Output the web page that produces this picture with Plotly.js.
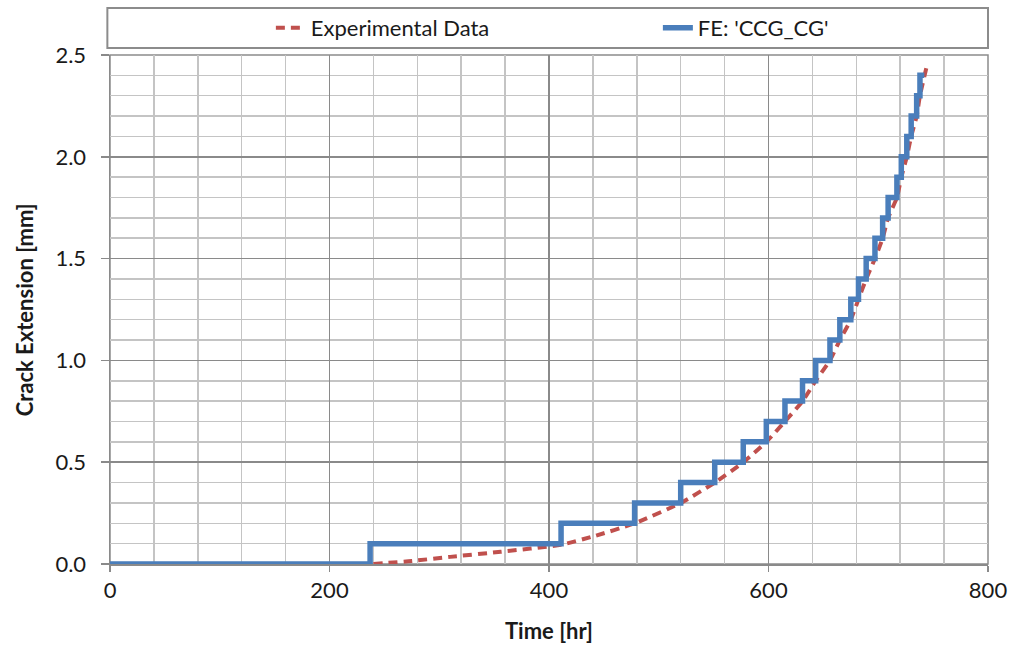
<!DOCTYPE html>
<html>
<head>
<meta charset="utf-8">
<script src="https://cdn.plot.ly/plotly-3.0.1.min.js"></script>
<style>
html,body{margin:0;padding:0;background:#fff;}
#chart{width:1012px;height:645px;}
</style>
</head>
<body>
<div id="chart"></div>
<script>
// Experimental data (red dashed curve)
var expTime = [240, 275, 310, 356, 411, 440, 478, 520, 551, 577, 598, 615, 631, 643, 656, 665, 675, 682, 689, 697, 704, 709, 717, 721, 726, 730, 735, 738, 744];
var expCrack = [0.0, 0.015, 0.035, 0.06, 0.095, 0.135, 0.2, 0.3, 0.4, 0.5, 0.6, 0.7, 0.8, 0.9, 1.0, 1.1, 1.2, 1.3, 1.4, 1.5, 1.6, 1.7, 1.8, 1.9, 2.0, 2.1, 2.2, 2.3, 2.44];

// FE: 'CCG_CG' (blue step line)
var feTime = [0, 237, 411, 478, 520, 551, 577, 598, 615, 631, 643, 656, 665, 675, 682, 689, 697, 704, 709, 717, 721, 726, 730, 735, 738, 742];
var feCrack = [0.0, 0.1, 0.2, 0.3, 0.4, 0.5, 0.6, 0.7, 0.8, 0.9, 1.0, 1.1, 1.2, 1.3, 1.4, 1.5, 1.6, 1.7, 1.8, 1.9, 2.0, 2.1, 2.2, 2.3, 2.4, 2.4];

var seriesNames = ["Experimental Data", "FE: 'CCG_CG'"];
var xTitle = "Time [hr]";
var yTitle = "Crack Extension [mm]";

var FONT = "Lato, 'Open Sans', sans-serif";
var FS = 22;

var traces = [
  {
    x: expTime, y: expCrack, name: seriesNames[0], type: 'scatter', mode: 'lines',
    line: {color: '#C0504D', width: 4, dash: '9px,6px', shape: 'spline', smoothing: 0.6},
    cliponaxis: false
  },
  {
    x: feTime, y: feCrack, name: seriesNames[1], type: 'scatter', mode: 'lines',
    line: {color: '#4A7EBB', width: 5.5, shape: 'hv'},
    cliponaxis: false
  }
];

var layout = {
  width: 1012, height: 645,
  margin: {l: 110, r: 24, t: 55, b: 81, autoexpand: false},
  paper_bgcolor: '#fff', plot_bgcolor: '#fff',
  font: {family: FONT, color: '#1a1a1a', size: FS},
  showlegend: true,
  legend: {
    orientation: 'h', x: 0.624, xanchor: 'center', y: 1.053, yanchor: 'middle',
    font: {family: FONT, size: FS, color: '#1a1a1a'},
    entrywidth: 342, entrywidthmode: 'pixels',
    bgcolor: 'rgba(0,0,0,0)', borderwidth: 0,
    traceorder: 'normal'
  },
  shapes: [
    {type: 'rect', xref: 'paper', yref: 'paper', x0: -0.003, x1: 1.0, y0: 1.0138, y1: 1.0923,
     line: {color: '#8c8c8c', width: 2}, fillcolor: 'rgba(0,0,0,0)'},
    {type: 'rect', xref: 'paper', yref: 'paper', x0: 0, x1: 1, y0: 0, y1: 1,
     line: {color: '#8c8c8c', width: 1.5}, fillcolor: 'rgba(0,0,0,0)', layer: 'below'}
  ],
  annotations: [
    {text: '<b>' + yTitle + '</b>', xref: 'paper', yref: 'paper', x: -0.097, y: 0.5,
     xanchor: 'center', yanchor: 'middle', textangle: -90, showarrow: false,
     font: {family: FONT, size: FS, color: '#1a1a1a'}}
  ],
  xaxis: {
    range: [0, 800], dtick: 200, tick0: 0,
    showgrid: true, gridcolor: '#8a8a8a', gridwidth: 1.5,
    minor: {dtick: 40, showgrid: true, gridcolor: '#c4c4c4', gridwidth: 1.5},
    showline: true, linecolor: '#8a8a8a', linewidth: 1.5,
    ticks: 'outside', ticklen: 6, tickcolor: '#8a8a8a', tickwidth: 1.5,
    zeroline: false,
    tickfont: {family: FONT, size: FS, color: '#1a1a1a'},
    title: {text: xTitle, font: {family: FONT, size: FS, color: '#1a1a1a', weight: 'bold'}, standoff: 21}
  },
  yaxis: {
    range: [0, 2.5], dtick: 0.5, tick0: 0, tickformat: '.1f',
    showgrid: true, gridcolor: '#8a8a8a', gridwidth: 1.5,
    minor: {dtick: 0.1, showgrid: true, gridcolor: '#c4c4c4', gridwidth: 1.5},
    showline: true, linecolor: '#8a8a8a', linewidth: 1.5,
    ticks: 'outside', ticklen: 8, tickcolor: '#8a8a8a', tickwidth: 1.5,
    ticklabelstandoff: 10,
    zeroline: false,
    tickfont: {family: FONT, size: FS, color: '#1a1a1a'}
  }
};

Plotly.newPlot('chart', traces, layout, {displayModeBar: false, staticPlot: true});
</script>
</body>
</html>
